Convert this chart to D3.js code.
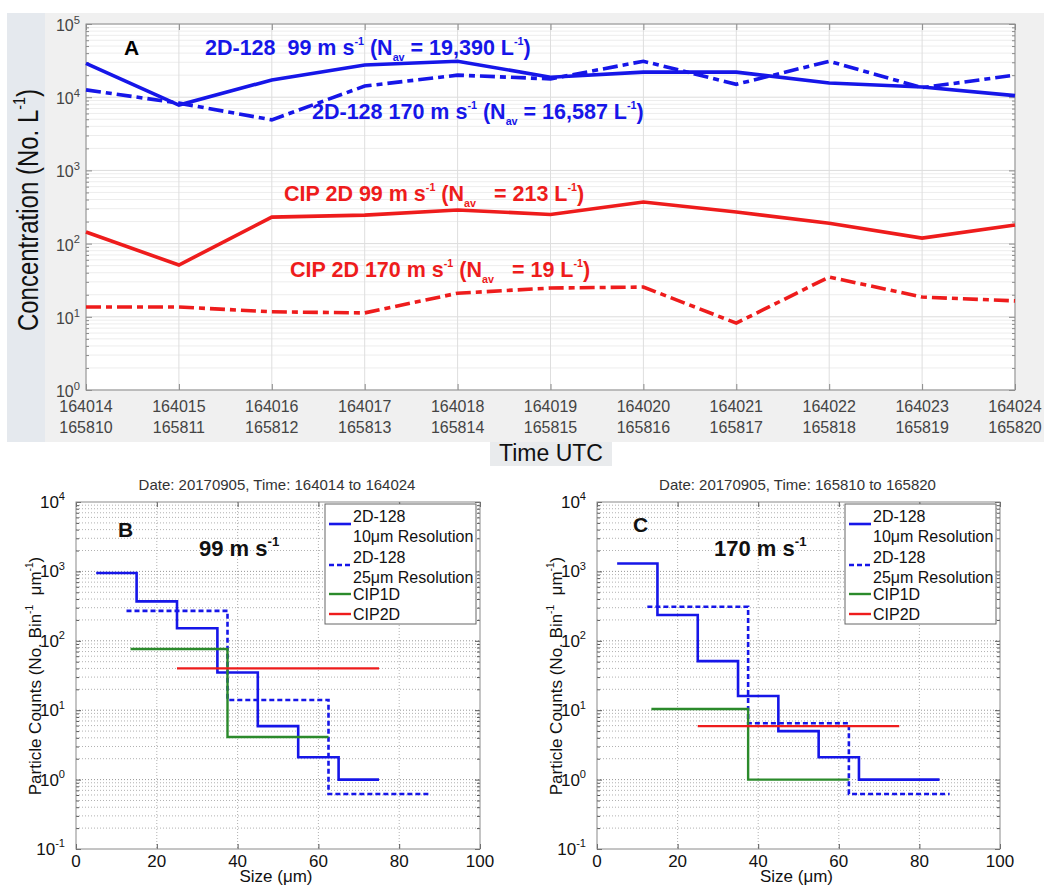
<!DOCTYPE html>
<html>
<head>
<meta charset="utf-8">
<script src="https://cdn.jsdelivr.net/npm/d3@7"></script>
<style>
  body { margin: 0; background: #fff; }
  text { font-family: "Liberation Sans", Arial, sans-serif; white-space: pre; }
</style>
</head>
<body>
<svg id="fig" width="1044" height="885"></svg>
<script>
// ---- panel A : concentration time series ----
const timeTop = ['164014', '164015', '164016', '164017', '164018', '164019', '164020', '164021', '164022', '164023', '164024'];
const timeBottom = ['165810', '165811', '165812', '165813', '165814', '165815', '165816', '165817', '165818', '165819', '165820'];
const conc2d99 = [29000, 7800, 17200, 27500, 31000, 18700, 22000, 22000, 15600, 13800, 10500];
const conc2d170 = [12600, 8300, 4900, 14200, 20000, 17800, 31000, 15000, 31000, 13500, 20000];
const concCip99 = [144, 51, 230, 245, 288, 250, 370, 270, 190, 119, 180];
const concCip170 = [13.6, 13.6, 11.7, 11.3, 21, 24.7, 25.5, 8.2, 35, 18.6, 16.5];

// ---- panels B and C : size distributions (bin edges + counts per bin) ----
const edges10B = [5, 15, 25, 35, 45, 55, 65, 75];
const counts10B = [950, 370, 152, 35, 5.9, 2.1, 1.0];
const edges10C = [5, 15, 25, 35, 45, 55, 65, 75, 85];
const counts10C = [1300, 235, 51, 16, 5.0, 2.1, 1.0, 1.0];
const edges25 = [12.5, 37.5, 62.5, 87.5];
const counts25B = [270, 14, 0.62];
const counts25C = [310, 6.5, 0.62];
const edgesCip1d = [13.5, 37.5, 62.5];
const cip1dB = [76, 4.1];
const cip1dC = [10.4, 1.0];
const edgesCip2d = [25, 75];
const cip2dB = [40];
const cip2dC = [5.9];

const sizeTicks = [0, 20, 40, 60, 80, 100];

const BLUE = '#1616e8', RED = '#ee1c1c', GREEN = '#2b8a2b';

const svg = d3.select('#fig');

// text with superscript / subscript parts
function rich(g, x, y, parts, size, ratio = 0.6) {
    const t = g.append('text').attr('x', x).attr('y', y).style('font-size', size + 'px');
    let shift = 0;
    parts.forEach(p => {
        const str = typeof p === 'string' ? p : p[0];
        const kind = typeof p === 'string' ? '' : p[1];
        const target = kind === 'sup' ? -0.45 * size : kind === 'sub' ? 0.3 * size : 0;
        const ts = t.append('tspan').attr('dy', target - shift).text(str);
        if (kind) ts.style('font-size', (size * ratio) + 'px');
        shift = target;
    });
    return t;
}

function logMinors(lo, hi) {
    const out = [];
    for (let k = lo; k < hi; k++) for (let m = 1; m <= 9; m++) out.push(m * Math.pow(10, k));
    out.push(Math.pow(10, hi));
    return out;
}
const isDecade = d => Math.abs(Math.log10(d) - Math.round(Math.log10(d))) < 1e-9;

// ================= Panel A =================
const A = { left: 86, right: 1015, top: 24, bottom: 390 };
svg.append('rect').attr('x', 7).attr('y', 13).attr('width', 1037).attr('height', 429).attr('fill', '#f0f0f0');
svg.append('rect').attr('x', 7).attr('y', 13).attr('width', 38).attr('height', 429).attr('fill', '#e5e9ee');

const xA = d3.scaleLinear().domain([0, timeTop.length - 1]).range([A.left, A.right]);
const yA = d3.scaleLog().domain([1, 1e5]).range([A.bottom, A.top]);
const minorA = logMinors(0, 5);
const gA = svg.append('g');

gA.append('rect').attr('x', A.left).attr('y', A.top).attr('width', A.right - A.left).attr('height', A.bottom - A.top).attr('fill', '#fff');

gA.selectAll('.hgrid').data(minorA).join('line')
    .attr('x1', A.left).attr('x2', A.right)
    .attr('y1', d => yA(d)).attr('y2', d => yA(d))
    .attr('stroke', d => isDecade(d) ? '#dcdcdc' : '#ededed').attr('stroke-width', 1);
gA.selectAll('.vgrid').data(d3.range(timeTop.length)).join('line')
    .attr('x1', d => xA(d)).attr('x2', d => xA(d))
    .attr('y1', A.top).attr('y2', A.bottom)
    .attr('stroke', '#dedede').attr('stroke-width', 1);

// axes (ticks inward)
const axB = gA.append('g').attr('transform', `translate(0,${A.bottom})`)
    .call(d3.axisBottom(xA).tickValues(d3.range(timeTop.length)).tickSizeInner(-6).tickSizeOuter(0).tickFormat(''));
const axT = gA.append('g').attr('transform', `translate(0,${A.top})`)
    .call(d3.axisTop(xA).tickValues(d3.range(timeTop.length)).tickSizeInner(-6).tickSizeOuter(0).tickFormat(''));
const axL = gA.append('g').attr('transform', `translate(${A.left},0)`)
    .call(d3.axisLeft(yA).tickValues(minorA).tickSizeInner(-6).tickSizeOuter(0).tickFormat(''));
const axR = gA.append('g').attr('transform', `translate(${A.right},0)`)
    .call(d3.axisRight(yA).tickValues(minorA).tickSizeInner(-6).tickSizeOuter(0).tickFormat(''));
axL.selectAll('.tick line').attr('x2', d => isDecade(d) ? 6 : 3);
axR.selectAll('.tick line').attr('x2', d => isDecade(d) ? -6 : -3);
[axB, axT, axL, axR].forEach(a => {
    a.select('.domain').remove();
    a.selectAll('.tick line').attr('stroke', '#8a8a8a');
});
gA.append('rect').attr('x', A.left).attr('y', A.top).attr('width', A.right - A.left).attr('height', A.bottom - A.top)
    .attr('fill', 'none').attr('stroke', '#8f8f8f').attr('stroke-width', 1);

// tick labels
timeTop.forEach((t, i) => {
    gA.append('text').attr('x', xA(i)).attr('y', 412).attr('text-anchor', 'middle')
        .style('font-size', '16px').attr('fill', '#444').text(t);
    gA.append('text').attr('x', xA(i)).attr('y', 433).attr('text-anchor', 'middle')
        .style('font-size', '16px').attr('fill', '#444').text(timeBottom[i]);
});
[1, 10, 100, 1e3, 1e4, 1e5].forEach(v => {
    rich(gA, A.left - 6, yA(v) + 7, ['10', [String(Math.round(Math.log10(v))), 'sup']], 16, 0.7)
        .attr('text-anchor', 'end').attr('fill', '#444');
});

// lines
const lineA = d3.line().x((d, i) => xA(i)).y(d => yA(d));
gA.append('path').datum(concCip170).attr('d', lineA).attr('fill', 'none')
    .attr('stroke', RED).attr('stroke-width', 3.6).attr('stroke-dasharray', '15,5,6,5');
gA.append('path').datum(concCip99).attr('d', lineA).attr('fill', 'none')
    .attr('stroke', RED).attr('stroke-width', 3.6);
gA.append('path').datum(conc2d170).attr('d', lineA).attr('fill', 'none')
    .attr('stroke', BLUE).attr('stroke-width', 3.6).attr('stroke-dasharray', '15,5,6,5');
gA.append('path').datum(conc2d99).attr('d', lineA).attr('fill', 'none')
    .attr('stroke', BLUE).attr('stroke-width', 3.6);

// annotations
gA.append('text').attr('x', 124).attr('y', 55).style('font-size', '21px').style('font-weight', 'bold').text('A');
rich(gA, 205, 55, ['2D-128  99 m s', ['-1', 'sup'], ' (N', ['av', 'sub'], ' = 19,390 L', ['-1', 'sup'], ')'], 21.5, 0.5)
    .style('font-weight', 'bold').attr('fill', BLUE);
rich(gA, 312, 119, ['2D-128 170 m s', ['-1', 'sup'], ' (N', ['av', 'sub'], ' = 16,587 L', ['-1', 'sup'], ')'], 21.5, 0.5)
    .style('font-weight', 'bold').attr('fill', BLUE);
rich(gA, 284, 201, ['CIP 2D 99 m s', ['-1', 'sup'], ' (N', ['av', 'sub'], '   = 213 L', ['-1', 'sup'], ')'], 21.5, 0.5)
    .style('font-weight', 'bold').attr('fill', RED);
rich(gA, 290, 277, ['CIP 2D 170 m s', ['-1', 'sup'], ' (N', ['av', 'sub'], '   = 19 L', ['-1', 'sup'], ')'], 21.5, 0.5)
    .style('font-weight', 'bold').attr('fill', RED);

// axis titles
const yTitleA = gA.append('g').attr('transform', 'translate(38,210) rotate(-90) scale(1,1.2)');
rich(yTitleA, 0, 0, ['Concentration (No. L', ['-1', 'sup'], ')'], 24).attr('text-anchor', 'middle').attr('fill', '#111');
svg.append('rect').attr('x', 490).attr('y', 442).attr('width', 122).attr('height', 24).attr('fill', '#e9ebed');
svg.append('text').attr('x', 551).attr('y', 461).attr('text-anchor', 'middle')
    .style('font-size', '23px').attr('fill', '#111').text('Time UTC');

// ================= Panels B and C =================
function sizePanel(p) {
    const g = svg.append('g');
    const x = d3.scaleLinear().domain([0, 100]).range([p.left, p.right]);
    const y = d3.scaleLog().domain([0.1, 1e4]).range([p.bottom, p.top]);
    const minors = logMinors(-1, 4);

    // dotted grid
    g.selectAll('.hgrid').data(minors.filter(d => d > 0.1 && d < 1e4)).join('line')
        .attr('x1', p.left).attr('x2', p.right)
        .attr('y1', d => y(d)).attr('y2', d => y(d))
        .attr('stroke', d => isDecade(d) ? '#8a8a8a' : '#a8a8a8').attr('stroke-width', 0.9)
        .attr('stroke-dasharray', '1,2');
    g.selectAll('.vgrid').data(sizeTicks.slice(1, -1)).join('line')
        .attr('x1', d => x(d)).attr('x2', d => x(d))
        .attr('y1', p.top).attr('y2', p.bottom)
        .attr('stroke', '#a8a8a8').attr('stroke-width', 0.9).attr('stroke-dasharray', '1,2');

    const axB = g.append('g').attr('transform', `translate(0,${p.bottom})`)
        .call(d3.axisBottom(x).tickValues(sizeTicks).tickSizeInner(-5).tickSizeOuter(0).tickFormat(''));
    const axT = g.append('g').attr('transform', `translate(0,${p.top})`)
        .call(d3.axisTop(x).tickValues(sizeTicks).tickSizeInner(-5).tickSizeOuter(0).tickFormat(''));
    const axL = g.append('g').attr('transform', `translate(${p.left},0)`)
        .call(d3.axisLeft(y).tickValues(minors).tickSizeInner(-5).tickSizeOuter(0).tickFormat(''));
    const axR = g.append('g').attr('transform', `translate(${p.right},0)`)
        .call(d3.axisRight(y).tickValues(minors).tickSizeInner(-5).tickSizeOuter(0).tickFormat(''));
    axL.selectAll('.tick line').attr('x2', d => isDecade(d) ? 5 : 3);
    axR.selectAll('.tick line').attr('x2', d => isDecade(d) ? -5 : -3);
    [axB, axT, axL, axR].forEach(a => {
        a.select('.domain').remove();
        a.selectAll('.tick line').attr('stroke', '#555');
    });
    g.append('rect').attr('x', p.left).attr('y', p.top).attr('width', p.right - p.left).attr('height', p.bottom - p.top)
        .attr('fill', 'none').attr('stroke', '#8a8a8a').attr('stroke-width', 1);

    sizeTicks.forEach(v => {
        g.append('text').attr('x', x(v)).attr('y', p.bottom + 18).attr('text-anchor', 'middle')
            .style('font-size', '17px').attr('fill', '#111').text(v);
    });
    [0.1, 1, 10, 100, 1e3, 1e4].forEach(v => {
        rich(g, p.left - 11, y(v) + 6, ['10', [String(Math.round(Math.log10(v))), 'sup']], 17, 0.65)
            .attr('text-anchor', 'end').attr('fill', '#111');
    });

    // step lines
    const step = d3.line().x(d => x(d[0])).y(d => y(d[1])).curve(d3.curveStepAfter);
    const pts = (edges, vals) => edges.map((e, i) => [e, vals[Math.min(i, vals.length - 1)]]);
    g.append('path').datum(pts(p.edges10, p.counts10)).attr('d', step).attr('fill', 'none')
        .attr('stroke', BLUE).attr('stroke-width', 2.6);
    g.append('path').datum(pts(edges25, p.counts25)).attr('d', step).attr('fill', 'none')
        .attr('stroke', BLUE).attr('stroke-width', 2.6).attr('stroke-dasharray', '5,3');
    g.append('path').datum(pts(edgesCip1d, p.cip1d)).attr('d', step).attr('fill', 'none')
        .attr('stroke', GREEN).attr('stroke-width', 2.4);
    g.append('path').datum(pts(edgesCip2d, p.cip2d)).attr('d', step).attr('fill', 'none')
        .attr('stroke', RED).attr('stroke-width', 2.4);

    // legend
    const lx = p.right - 155, ly = p.top + 2;
    const lg = g.append('g');
    lg.append('rect').attr('x', lx).attr('y', ly).attr('width', 151).attr('height', 120)
        .attr('fill', '#fff').attr('stroke', '#666').attr('stroke-width', 1);
    const items = [
        { c: BLUE, dash: null, w: 2.6, ly: 20, t: ['2D-128', '10\u03bcm Resolution'] },
        { c: BLUE, dash: '5,3', w: 2.6, ly: 61, t: ['2D-128', '25\u03bcm Resolution'] },
        { c: GREEN, dash: null, w: 2.4, ly: 90, t: ['CIP1D'] },
        { c: RED, dash: null, w: 2.4, ly: 110, t: ['CIP2D'] }
    ];
    items.forEach(it => {
        lg.append('line').attr('x1', lx + 4).attr('x2', lx + 26).attr('y1', ly + it.ly).attr('y2', ly + it.ly)
            .attr('stroke', it.c).attr('stroke-width', it.w).attr('stroke-dasharray', it.dash);
        it.t.forEach((s, k) => {
            const base = it.t.length === 2 ? ly + it.ly - 2 + k * 20 : ly + it.ly + 6;
            lg.append('text').attr('x', lx + 28).attr('y', base).style('font-size', '16px').attr('fill', '#111').text(s);
        });
    });

    // titles and labels
    g.append('text').attr('x', (p.left + p.right) / 2 - 1).attr('y', p.top - 12).attr('text-anchor', 'middle')
        .style('font-size', '15px').attr('fill', '#333').text(p.title);
    g.append('text').attr('x', (p.left + p.right) / 2 - 2).attr('y', 882).attr('text-anchor', 'middle')
        .style('font-size', '17px').attr('fill', '#111').text('Size (\u03bcm)');
    const yt = g.append('g').attr('transform', `translate(${p.left - 35},676) rotate(-90)`);
    rich(yt, 0, 0, ['Particle Counts (No. Bin', ['-1', 'sup'], '  \u03bcm', ['-1', 'sup'], ')'], 17)
        .attr('text-anchor', 'middle').attr('fill', '#111');

    g.append('text').attr('x', p.letterX).attr('y', p.letterY).style('font-size', '21px').style('font-weight', 'bold')
        .attr('fill', '#111').text(p.letter);
    rich(g, p.speedX, 556, [p.speed, ['-1', 'sup']], 22).style('font-weight', 'bold').attr('fill', '#111');
}

sizePanel({
    left: 76, right: 480, top: 502, bottom: 849,
    edges10: edges10B, counts10: counts10B, counts25: counts25B, cip1d: cip1dB, cip2d: cip2dB,
    title: 'Date: 20170905, Time: 164014 to 164024',
    letter: 'B', letterX: 118, letterY: 537, speed: '99 m s', speedX: 199
});
sizePanel({
    left: 597, right: 1000, top: 502, bottom: 849,
    edges10: edges10C, counts10: counts10C, counts25: counts25C, cip1d: cip1dC, cip2d: cip2dC,
    title: 'Date: 20170905, Time: 165810 to 165820',
    letter: 'C', letterX: 633, letterY: 532, speed: '170 m s', speedX: 714
});
</script>
</body>
</html>
